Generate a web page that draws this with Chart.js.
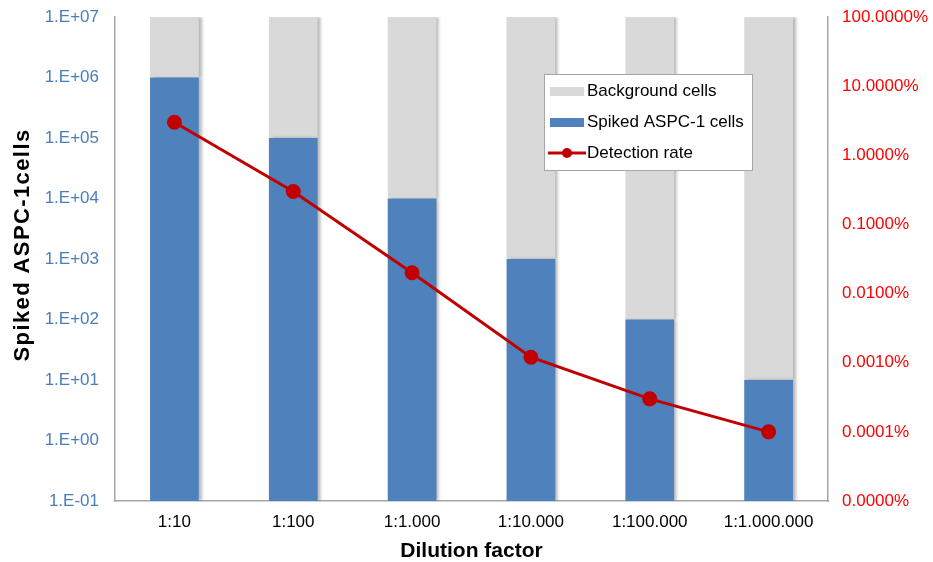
<!DOCTYPE html>
<html>
<head>
<meta charset="utf-8">
<script src="https://cdn.jsdelivr.net/npm/chart.js@4/dist/chart.umd.min.js"></script>
<style>
  html, body { margin: 0; padding: 0; background: #fff; }
  #wrap { width: 933px; height: 562px; position: relative; }
</style>
</head>
<body>
<div id="wrap"><canvas id="chart" width="933" height="562"></canvas></div>
<script>
// ---- data ----
const categories = ['1:10', '1:100', '1:1.000', '1:10.000', '1:100.000', '1:1.000.000']
const totalCells = 1e7
const spikedCells = [1e6, 1e5, 1e4, 1e3, 1e2, 1e1]
const backgroundCells = spikedCells.map(v => totalCells - v)
const detectionRate = [3, 0.3, 0.02, 0.0012, 0.0003, 0.0001] // in %
const leftTicks = [1e-1, 1e0, 1e1, 1e2, 1e3, 1e4, 1e5, 1e6, 1e7]
const rightTicks = [1e-5, 1e-4, 1e-3, 1e-2, 1e-1, 1, 10, 100]
const yTitle = 'Spiked ASPC-1cells'

const FONT = '"Liberation Sans", Arial, sans-serif'
const GREY = '#d9d9d9'
const BLUE = '#4f81bd'
const RED = '#c00000'

// excel-like 1.E+07 format
const sci = (v) => {
  const e = Math.round(Math.log10(v))
  const s = e < 0 ? '-' : '+'
  return '1.E' + s + String(Math.abs(e)).padStart(2, '0')
}

// fixed scale sizes, no extra label overflow padding
const fixWidth = (w) => (s) => {
  s.width = w
  s.paddingTop = 0
  s.paddingBottom = 0
}

// soft shadow on the right of the bars
const barShadow = {
  id: 'barShadow',
  beforeDatasetDraw: (chart, args) => {
    if (args.meta.type !== 'bar') return
    const ctx = chart.ctx
    ctx.save()
    ctx.shadowColor = 'rgba(0,0,0,0.28)'
    ctx.shadowOffsetX = 3
    ctx.shadowBlur = 3
  },
  afterDatasetDraw: (chart, args) => {
    if (args.meta.type !== 'bar') return
    chart.ctx.restore()
  }
}

// rotated y title
const leftTitle = {
  id: 'leftTitle',
  afterDraw: (chart) => {
    const ctx = chart.ctx
    ctx.save()
    ctx.translate(23, 245)
    ctx.rotate(-Math.PI / 2)
    ctx.font = 'bold 22px ' + FONT
    ctx.letterSpacing = '1.4px'
    ctx.fillStyle = '#000'
    ctx.textAlign = 'center'
    ctx.textBaseline = 'middle'
    ctx.fillText(yTitle, 0, 0)
    ctx.restore()
  }
}

// legend box drawn inside the plot
const boxLegend = {
  id: 'boxLegend',
  afterDraw: (chart) => {
    const ctx = chart.ctx
    const x = 544, y = 74, w = 208, h = 96
    ctx.save()
    ctx.fillStyle = '#fff'
    ctx.fillRect(x, y, w, h)
    ctx.strokeStyle = '#a6a6a6'
    ctx.lineWidth = 1
    ctx.strokeRect(x + 0.5, y + 0.5, w, h)
    const items = [
      {label: chart.data.datasets[2].label, color: GREY, type: 'bar'},
      {label: chart.data.datasets[1].label, color: BLUE, type: 'bar'},
      {label: chart.data.datasets[0].label, color: RED, type: 'line'}
    ]
    ctx.font = '17px ' + FONT
    ctx.textBaseline = 'middle'
    items.forEach((it, i) => {
      const cy = y + 17 + i * 31
      if (it.type === 'bar') {
        ctx.fillStyle = it.color
        ctx.fillRect(x + 6, cy - 4, 34, 9)
      } else {
        ctx.strokeStyle = it.color
        ctx.lineWidth = 3
        ctx.beginPath()
        ctx.moveTo(x + 4, cy)
        ctx.lineTo(x + 42, cy)
        ctx.stroke()
        ctx.fillStyle = it.color
        ctx.beginPath()
        ctx.arc(x + 23, cy, 5, 0, Math.PI * 2)
        ctx.fill()
      }
      ctx.fillStyle = '#000'
      ctx.fillText(it.label, x + 43, cy)
    })
    ctx.restore()
  }
}

const ctx = document.getElementById('chart')
new Chart(ctx, {
  type: 'bar',
  data: {
    labels: categories,
    datasets: [
      {
        type: 'line',
        label: 'Detection rate',
        data: detectionRate,
        yAxisID: 'y1',
        borderColor: RED,
        backgroundColor: RED,
        borderWidth: 3,
        pointRadius: 6,
        pointHoverRadius: 6,
        order: 0
      },
      {
        label: 'Spiked ASPC-1 cells',
        data: spikedCells,
        backgroundColor: BLUE,
        stack: 's',
        barPercentage: 0.41,
        categoryPercentage: 1,
        order: 1
      },
      {
        label: 'Background cells',
        data: backgroundCells,
        backgroundColor: GREY,
        stack: 's',
        barPercentage: 0.41,
        categoryPercentage: 1,
        order: 1
      }
    ]
  },
  options: {
    responsive: false,
    animation: false,
    devicePixelRatio: 1,
    layout: {padding: {top: 17, left: 0, right: 0, bottom: 0}},
    plugins: {
      legend: {display: false},
      tooltip: {enabled: false}
    },
    scales: {
      x: {
        stacked: true,
        grid: {display: false, drawTicks: true, offset: true, tickLength: 6, color: '#a6a6a6'},
        border: {color: '#a6a6a6', width: 1.5},
        ticks: {color: '#000', font: {family: FONT, size: 17}, padding: 5, autoSkip: false, maxRotation: 0},
        title: {display: true, text: 'Dilution factor', color: '#000', font: {family: FONT, size: 21, weight: 'bold'}, padding: {top: 0, bottom: -2}},
        afterFit: (s) => {
          s.height = 61
          s.paddingLeft = 0
          s.paddingRight = 0
        }
      },
      y: {
        type: 'logarithmic',
        position: 'left',
        stacked: true,
        min: 1e-1,
        max: 1e7,
        grid: {display: false, drawTicks: true, tickLength: 6, color: '#a6a6a6'},
        border: {color: '#a6a6a6', width: 1.5},
        afterBuildTicks: (s) => { s.ticks = leftTicks.map(v => ({value: v})) },
        ticks: {color: '#4a7ebb', font: {family: FONT, size: 17}, padding: 10, autoSkip: false, callback: (v) => sci(v)},
        afterFit: fixWidth(115)
      },
      y1: {
        type: 'logarithmic',
        position: 'right',
        min: 1e-5,
        max: 100,
        grid: {display: false, drawTicks: true, tickLength: 6, color: '#a6a6a6'},
        border: {color: '#a6a6a6', width: 1.5},
        afterBuildTicks: (s) => { s.ticks = rightTicks.map(v => ({value: v})) },
        ticks: {color: '#ff0000', font: {family: FONT, size: 17}, padding: 8, autoSkip: false, callback: (v) => v.toFixed(4) + '%'},
        afterFit: fixWidth(105)
      }
    }
  },
  plugins: [barShadow, leftTitle, boxLegend]
})
</script>
</body>
</html>
